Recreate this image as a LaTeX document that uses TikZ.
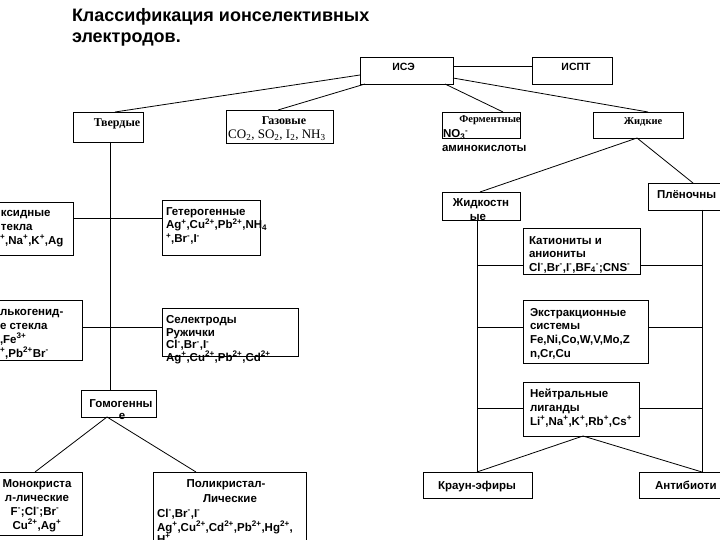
\documentclass[tikz,border=0pt]{standalone}
\usepackage{fontspec}
\setmainfont{Liberation Serif}
\setsansfont{Liberation Sans}
\newcommand\spx[1]{\textsuperscript{#1}}
\newcommand\sbx[1]{\textsubscript{#1}}
\begin{document}
\begin{tikzpicture}[x=1pt,y=-1pt,
  bx/.style={draw=black, line width=0.8pt, inner sep=0, outer sep=0, fill=white},
  ln/.style={draw=black, line width=0.8pt},
  tx/.style={inner sep=0, outer sep=0, font=\sffamily\bfseries\fontsize{11.5}{13}\selectfont},
  sm/.style={inner sep=0, outer sep=0, font=\sffamily\bfseries\fontsize{10.5}{12}\selectfont},
  rb/.style={inner sep=0, outer sep=0, font=\rmfamily\bfseries\fontsize{10.5}{12}\selectfont},
  rbl/.style={inner sep=0, outer sep=0, font=\rmfamily\bfseries\fontsize{12}{14}\selectfont},
  ttl/.style={inner sep=0, outer sep=0, font=\sffamily\bfseries\fontsize{18}{21}\selectfont},
]
\useasboundingbox (0,0) rectangle (720,540);
\fill[white] (0,0) rectangle (720,540);
\clip (0,0) rectangle (720,540);

% title
\node[ttl, anchor=base west] (t1) at (72,21.5) {Классификация ионселективных};
\node[ttl, anchor=base west] (t2) at (72,42.5) {электродов.};

% boxes
\node[bx, minimum width=93, minimum height=27] (ise) at (406.5,70.5) {};
\node[bx, minimum width=80, minimum height=27] (ispt) at (572,70.5) {};
\node[bx, minimum width=70, minimum height=30] (tv) at (108,127) {};
\node[bx, minimum width=107, minimum height=33] (gaz) at (279.5,126.5) {};
\node[bx, minimum width=78, minimum height=26] (ferm) at (481,125) {};
\node[bx, minimum width=90, minimum height=26] (zhid) at (638,125) {};
\node[bx, minimum width=78, minimum height=28] (zhk) at (481,206) {};
\node[bx, minimum width=82, minimum height=27] (plen) at (689,196.5) {};
\node[bx, minimum width=117, minimum height=46] (kat) at (581.5,251) {};
\node[bx, minimum width=125, minimum height=63] (ekst) at (585.5,331.5) {};
\node[bx, minimum width=116, minimum height=54] (neut) at (581,409) {};
\node[bx, minimum width=109, minimum height=26] (kraun) at (477.5,485) {};
\node[bx, minimum width=91, minimum height=26] (anti) at (684.5,485) {};
\node[bx, minimum width=83, minimum height=53] (oks) at (31.5,228.5) {};
\node[bx, minimum width=98, minimum height=55] (het) at (211,227.5) {};
\node[bx, minimum width=92, minimum height=60] (halk) at (36,330) {};
\node[bx, minimum width=136, minimum height=48] (sel) at (230,332) {};
\node[bx, minimum width=75, minimum height=27] (hom) at (118.5,403.5) {};
\node[bx, minimum width=92, minimum height=63] (mono) at (36,503.5) {};
\node[bx, minimum width=153, minimum height=88] (poly) at (229.5,516) {};

% named points on the long verticals
\coordinate (vL) at ([xshift=-4pt]zhk.south);
\coordinate (vR) at ([xshift=13pt]plen.south);
\coordinate (vT) at ([xshift=2pt]tv.south);

% connectors
\draw[ln] ([yshift=4.5pt]ise.east) -- ([yshift=4.5pt]ispt.west);
\draw[ln] ([yshift=-4.5pt]ise.west) -- ([xshift=7pt]tv.north);
\draw[ln] ([xshift=5pt]ise.south west) -- ([xshift=-1.5pt]gaz.north);
\draw[ln] ([xshift=-8pt]ise.south east) -- ([xshift=22pt]ferm.north);
\draw[ln] ([yshift=-7.5pt]ise.east) -- ([xshift=10pt]zhid.north);
\draw[ln] ([xshift=-1pt]zhid.south) -- ([xshift=-1pt]zhk.north);
\draw[ln] ([xshift=-1pt]zhid.south) -- ([xshift=4pt]plen.north);
\draw[ln] (vL) -- (vL |- kraun.north);
\draw[ln] (vR) -- (vR |- anti.north);
\draw[ln] ([yshift=-14pt]kat.west) -- ([yshift=-14pt]kat.west -| vL);
\draw[ln] ([yshift=-14pt]kat.east) -- ([yshift=-14pt]kat.east -| vR);
\draw[ln] ([yshift=4.5pt]ekst.west) -- ([yshift=4.5pt]ekst.west -| vL);
\draw[ln] ([yshift=4.5pt]ekst.east) -- ([yshift=4.5pt]ekst.east -| vR);
\draw[ln] ([yshift=1pt]neut.west) -- ([yshift=1pt]neut.west -| vL);
\draw[ln] ([yshift=1pt]neut.east) -- ([yshift=1pt]neut.east -| vR);
\draw[ln] ([xshift=2pt]neut.south) -- (vL |- kraun.north);
\draw[ln] ([xshift=2pt]neut.south) -- (vR |- anti.north);
\draw[ln] (vT) -- (vT |- hom.north);
\draw[ln] ([yshift=10.5pt]oks.east) -- ([yshift=9.5pt]het.west);
\draw[ln] ([yshift=3pt]halk.east) -- ([yshift=5pt]sel.west);
\draw[ln] ([xshift=-11.5pt]hom.south) -- ([xshift=-1pt]mono.north);
\draw[ln] ([xshift=-11.5pt]hom.south) -- ([xshift=-33.5pt]poly.north);

% texts
\node[sm, anchor=base] (ise-t) at (403.5,71) {ИСЭ};
\node[sm, anchor=base] (ispt-t) at (576,71) {ИСПТ};
\node[rbl, anchor=base] (tv-t) at (117,127) {Твердые};
\node[rbl, anchor=base] (gaz-t1) at (284,124.5) {Газовые};
\node[inner sep=0, font=\rmfamily\fontsize{13}{15}\selectfont, anchor=base west] (gaz-t2) at (228,139) {CO\sbx{2}, SO\sbx{2}, I\sbx{2}, NH\sbx{3}};
\node[rb, anchor=base] (ferm-t1) at (490,123) {Ферментные};
\node[tx, anchor=base west] (ferm-t2) at (443,138) {NO\sbx{3}\spx{-}};
\node[tx, anchor=base west] (ferm-t3) at (442,152) {аминокислоты};
\node[rb, anchor=base] (zhid-t) at (643,125) {Жидкие};
\node[tx, anchor=base] (zhk-t1) at (481,207) {Жидкостн};
\node[tx, anchor=base] (zhk-t2) at (478,221) {ые};
\node[tx, anchor=base west] (plen-t) at (657,199) {Плёночны};
\node[tx, anchor=base west] (kat-t1) at (529,244) {Катиониты и};
\node[tx, anchor=base west] (kat-t2) at (529,257.5) {аниониты};
\node[tx, anchor=base west] (kat-t3) at (529,271) {Cl\spx{-},Br\spx{-},I\spx{-},BF\sbx{4}\spx{-};CNS\spx{-}};
\node[tx, anchor=base west] (ekst-t1) at (530,316) {Экстракционные};
\node[tx, anchor=base west] (ekst-t2) at (530,329.5) {системы};
\node[tx, anchor=base west] (ekst-t3) at (530,343) {Fe,Ni,Co,W,V,Mo,Z};
\node[tx, anchor=base west] (ekst-t4) at (530,357) {n,Cr,Cu};
\node[tx, anchor=base west] (neut-t1) at (530,397) {Нейтральные};
\node[tx, anchor=base west] (neut-t2) at (530,411) {лиганды};
\node[tx, anchor=base west] (neut-t3) at (530,425) {Li\spx{+},Na\spx{+},K\spx{+},Rb\spx{+},Cs\spx{+}};
\node[tx, anchor=base] (kraun-t) at (477,489) {Краун-эфиры};
\node[tx, anchor=base west] (anti-t) at (655,489) {Антибиоти};
\node[tx, anchor=base west] (oks-t1) at (1,217) {ксидные};
\node[tx, anchor=base west] (oks-t2) at (1,230) {текла};
\node[tx, anchor=base west] (oks-t3) at (0,244) {\spx{+},Na\spx{+},K\spx{+},Ag};
\node[tx, anchor=base west] (het-t1) at (166,215) {Гетерогенные};
\node[tx, anchor=base west] (het-t2) at (166,229) {Ag\spx{+},Cu\spx{2+},Pb\spx{2+},NH\sbx{4}};
\node[tx, anchor=base west] (het-t3) at (166,243) {\spx{+},Br\spx{-},I\spx{-}};
\node[tx, anchor=base west] (halk-t1) at (0,315.5) {лькогенид-};
\node[tx, anchor=base west] (halk-t2) at (0,329) {е стекла};
\node[tx, anchor=base west] (halk-t3) at (0,343) {,Fe\spx{3+}};
\node[tx, anchor=base west] (halk-t4) at (0,357) {\spx{+},Pb\spx{2+}Br\spx{-}};
\node[tx, anchor=base west] (sel-t1) at (166,323.5) {Селектроды};
\node[tx, anchor=base west] (sel-t2) at (166,336) {Ружички};
\node[tx, anchor=base west] (sel-t3) at (166,348.5) {Cl\spx{-},Br\spx{-},I\spx{-}};
\node[tx, anchor=base west] (sel-t4) at (166,361) {Ag\spx{+},Cu\spx{2+},Pb\spx{2+},Cd\spx{2+}};
\node[tx, anchor=base] (hom-t1) at (121,407) {Гомогенны};
\node[tx, anchor=base] (hom-t2) at (122,419) {е};
\node[tx, anchor=base] (mono-t1) at (37,487) {Монокриста};
\node[tx, anchor=base] (mono-t2) at (37,501) {л-лические};
\node[tx, anchor=base] (mono-t3) at (35,515) {F\spx{-};Cl\spx{-};Br\spx{-}};
\node[tx, anchor=base] (mono-t4) at (37,529) {Cu\spx{2+},Ag\spx{+}};
\node[tx, anchor=base] (poly-t1) at (226,487) {Поликристал-};
\node[tx, anchor=base] (poly-t2) at (230,502) {Личеcкие};
\node[tx, anchor=base west] (poly-t3) at (157,517) {Cl\spx{-},Br\spx{-},I\spx{-}};
\node[tx, anchor=base west] (poly-t4) at (157,531) {Ag\spx{+},Cu\spx{2+},Cd\spx{2+},Pb\spx{2+},Hg\spx{2+},};
\node[tx, anchor=base west] (poly-t5) at (157,543) {H\spx{+}};
\end{tikzpicture}
\end{document}
